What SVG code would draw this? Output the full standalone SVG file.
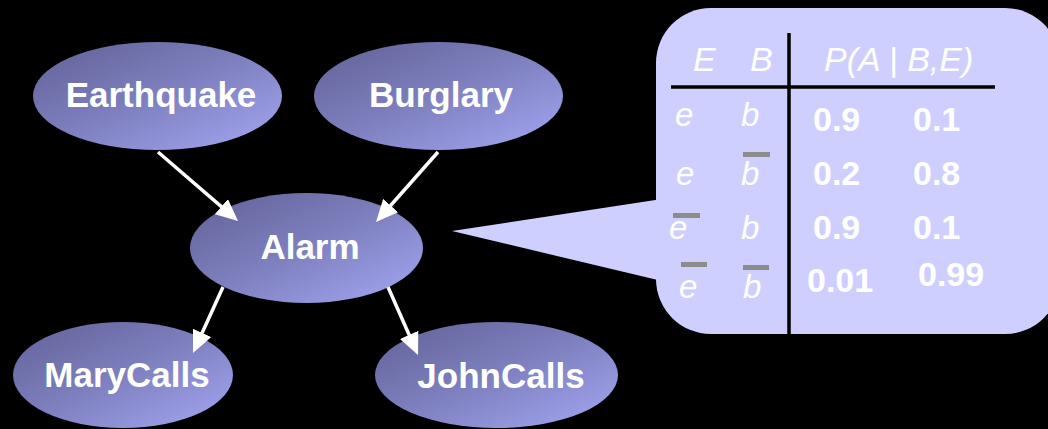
<svg xmlns="http://www.w3.org/2000/svg" width="1048" height="429" viewBox="0 0 1048 429">
  <style>
    .node { fill: url(#nodeFill); }
    .label { font-family: "Liberation Sans", Arial, sans-serif; font-weight: bold; font-size: 35px; fill: #ffffff; text-anchor: middle; }
    .edge { stroke: #ffffff; stroke-width: 3.5; fill: none; marker-end: url(#arrow); }
    .callout { fill: #cfcfff; }
    .rule { stroke: #000000; stroke-width: 3.5; }
    .var { font-family: "Liberation Sans", Arial, sans-serif; font-style: italic; font-size: 33px; fill: #ffffff; }
    .head { font-family: "Liberation Sans", Arial, sans-serif; font-style: italic; font-size: 34px; fill: #ffffff; }
    .num { font-family: "Liberation Sans", Arial, sans-serif; font-weight: bold; font-size: 34px; fill: #ffffff; }
    .bar { fill: #8c8c8c; }
  </style>
  <defs>
    <linearGradient id="nodeFill" x1="0" y1="0" x2="1" y2="1">
      <stop offset="0" stop-color="#616196"/>
      <stop offset="0.5" stop-color="#7e80bf"/>
      <stop offset="1" stop-color="#a4a8f4"/>
    </linearGradient>
    <marker id="arrow" markerUnits="userSpaceOnUse" markerWidth="24" markerHeight="20" refX="16" refY="10" orient="auto">
      <path d="M0,0 L22,10 L0,20 Z" fill="#ffffff"/>
    </marker>
  </defs>

  <rect x="0" y="0" width="1048" height="429" fill="#000000"/>

  <!-- conditional probability table callout -->
  <g id="cpt">
    <polygon class="callout" points="452,231 662,199 662,281"/>
    <rect class="callout" x="656" y="8" width="404" height="326" rx="55" ry="55"/>
    <line class="rule" x1="789" y1="33" x2="789" y2="334"/>
    <line class="rule" x1="671" y1="87" x2="995" y2="87"/>

    <text class="head" x="693" y="71">E</text>
    <text class="head" x="750" y="71">B</text>
    <text class="head" x="824" y="71">P(A | B,E)</text>

    <text class="var" x="675" y="126">e</text>
    <text class="var" x="741" y="126">b</text>
    <text class="num" x="813" y="131">0.9</text>
    <text class="num" x="913" y="131">0.1</text>

    <text class="var" x="676" y="185">e</text>
    <text class="var" x="741" y="185">b</text>
    <rect class="bar" x="743" y="152" width="27" height="5"/>
    <text class="num" x="813" y="185">0.2</text>
    <text class="num" x="913" y="185">0.8</text>

    <text class="var" x="669" y="239">e</text>
    <rect class="bar" x="673" y="213" width="27" height="5"/>
    <text class="var" x="741" y="239">b</text>
    <text class="num" x="813" y="239">0.9</text>
    <text class="num" x="913" y="239">0.1</text>

    <text class="var" x="679" y="298">e</text>
    <rect class="bar" x="681" y="262" width="26" height="5"/>
    <text class="var" x="743" y="298">b</text>
    <rect class="bar" x="743" y="265" width="26" height="5"/>
    <text class="num" x="807" y="292">0.01</text>
    <text class="num" x="918" y="286">0.99</text>
  </g>

  <g id="earthquake">
    <ellipse class="node" cx="157.5" cy="96" rx="124.5" ry="54"/>
    <text class="label" x="161" y="107">Earthquake</text>
  </g>
  <g id="burglary">
    <ellipse class="node" cx="438.5" cy="96" rx="124.5" ry="54"/>
    <text class="label" x="441" y="107">Burglary</text>
  </g>
  <g id="alarm">
    <ellipse class="node" cx="306.5" cy="248" rx="116.5" ry="55"/>
    <text class="label" x="310" y="259">Alarm</text>
  </g>
  <g id="marycalls">
    <ellipse class="node" cx="123" cy="375" rx="110" ry="53"/>
    <text class="label" x="127" y="387">MaryCalls</text>
  </g>
  <g id="johncalls">
    <ellipse class="node" cx="496.5" cy="375" rx="121.5" ry="53"/>
    <text class="label" x="501" y="388">JohnCalls</text>
  </g>

  <g id="connectors">
    <line class="edge" x1="158" y1="152" x2="233.5" y2="217.1"/>
    <line class="edge" x1="438" y1="152" x2="380" y2="217.5"/>
    <line class="edge" x1="223" y1="287" x2="195.5" y2="347.5"/>
    <line class="edge" x1="388" y1="287" x2="415.6" y2="349.5"/>
  </g>
</svg>
